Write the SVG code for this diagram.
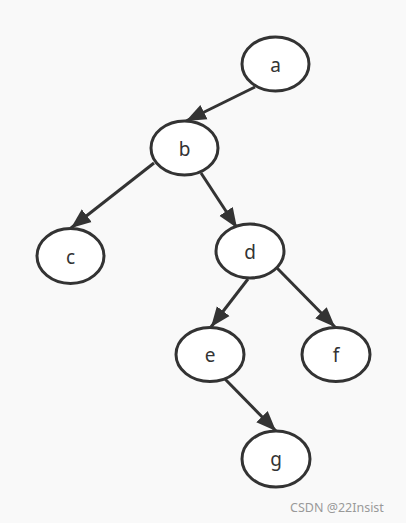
<svg xmlns="http://www.w3.org/2000/svg" width="406" height="523" viewBox="0 0 406 523">
<style>
.node ellipse{fill:#fff;stroke:#333;stroke-width:3}
.node text{font-family:"Noto Sans","DejaVu Sans",sans-serif;font-size:19px;fill:#333;text-anchor:middle;dominant-baseline:central}
.edge{stroke:#333;stroke-width:3;fill:none;marker-end:url(#arr)}
.wm{font-family:"Noto Sans","Liberation Sans",sans-serif;font-size:12.5px;fill:#999}
</style>
<defs>
<marker id="arr" markerUnits="userSpaceOnUse" markerWidth="22" markerHeight="18" viewBox="0 0 22 18" refX="20" refY="9" orient="auto">
<path d="M0,1 L20,9 L0,17 Z" fill="#333"/>
</marker>
</defs>
<rect width="406" height="523" fill="#f9f9f9"/>
<g id="connectors">
<line class="edge" x1="255" y1="87" x2="186" y2="121"/>
<line class="edge" x1="154" y1="163" x2="71" y2="228"/>
<line class="edge" x1="201" y1="173" x2="237" y2="228"/>
<line class="edge" x1="248" y1="279" x2="211" y2="327"/>
<line class="edge" x1="277" y1="268" x2="335" y2="327"/>
<line class="edge" x1="223" y1="377" x2="276" y2="431"/>
</g>
<g id="a" class="node"><ellipse cx="275.5" cy="64" rx="33.5" ry="27"/><text x="275.5" y="65">a</text></g>
<g id="b" class="node"><ellipse cx="184.5" cy="148" rx="33.5" ry="27"/><text x="184.5" y="149">b</text></g>
<g id="c" class="node"><ellipse cx="70.5" cy="256" rx="33.5" ry="27.5"/><text x="70.5" y="257">c</text></g>
<g id="d" class="node"><ellipse cx="250" cy="251" rx="34" ry="27"/><text x="250" y="252">d</text></g>
<g id="e" class="node"><ellipse cx="210" cy="354.5" rx="34" ry="27"/><text x="210" y="355">e</text></g>
<g id="f" class="node"><ellipse cx="336" cy="354.5" rx="34" ry="27"/><text x="336" y="355">f</text></g>
<g id="g" class="node"><ellipse cx="276" cy="459" rx="34" ry="28"/><text x="276" y="459">g</text></g>
<text class="wm" x="290" y="512">CSDN @22Insist</text>
</svg>
